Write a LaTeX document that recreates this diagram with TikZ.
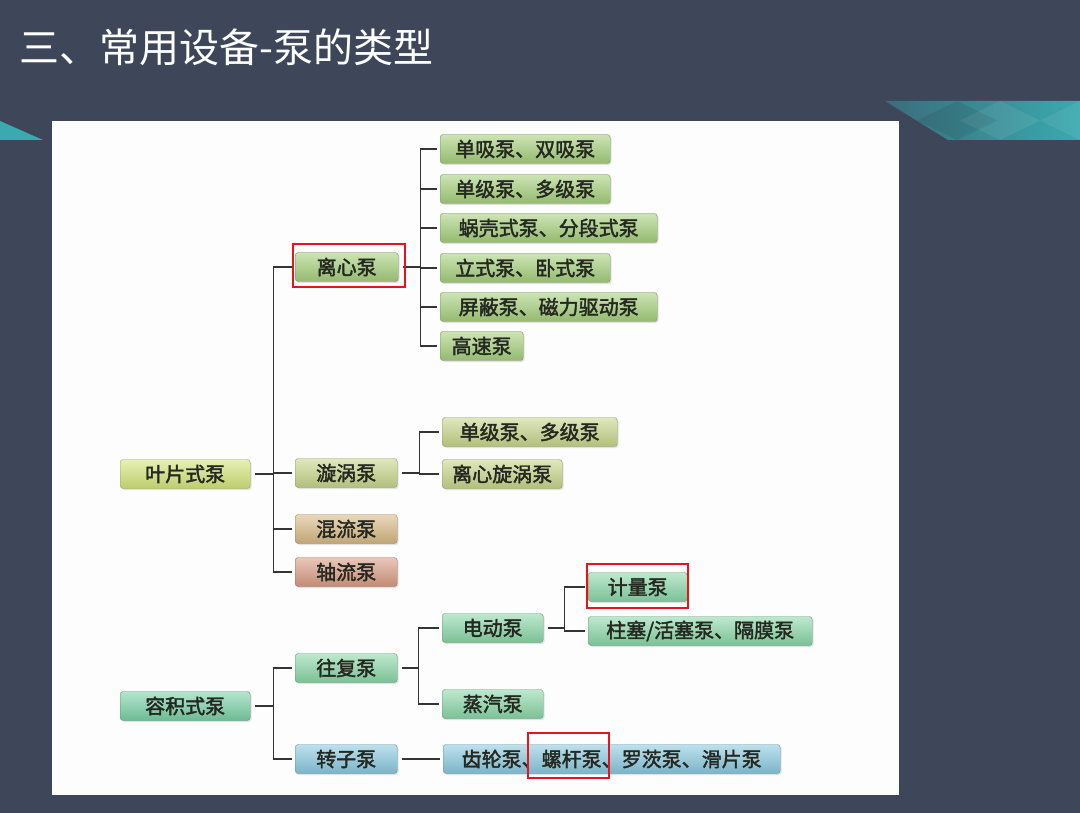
\documentclass[tikz,border=0pt]{standalone}
\usepackage{fontspec}
\usepackage{tikz}
\usetikzlibrary{shapes,positioning,calc,shadows,fit,backgrounds}
\newfontfamily\cjk{Noto Sans CJK SC}
\newfontfamily\cjkb[FakeBold=2]{Noto Sans CJK SC}
\definecolor{slidebg}{RGB}{62,71,89}
\definecolor{tealhi}{RGB}{58,170,176}
\definecolor{tealdk}{RGB}{60,108,122}
\definecolor{panelwhite}{RGB}{253,253,253}
\definecolor{linegray}{RGB}{52,52,52}
\definecolor{txtdark}{RGB}{36,40,32}
\definecolor{hired}{RGB}{232,20,27}
\definecolor{leafyel}{RGB}{210,228,120}
\definecolor{cfgreen}{RGB}{164,206,122}
\definecolor{vxolive}{RGB}{198,212,136}
\definecolor{mxtan}{RGB}{214,184,130}
\definecolor{axsalmon}{RGB}{216,154,130}
\definecolor{pdteal}{RGB}{120,208,164}
\definecolor{rcmint}{RGB}{136,214,166}
\definecolor{rtblue}{RGB}{136,200,222}

\begin{document}
\begin{tikzpicture}[x=1pt, y=-1pt,
    box/.style={rounded corners=3pt, minimum height=29pt, inner xsep=4pt, inner ysep=0pt,
        anchor=west, draw=#1!72!black, line width=0.4pt,
        top color=#1!55!white, bottom color=#1!90!black,
        font=\cjkb\fontsize{20}{20}\selectfont, text=txtdark,
        drop shadow={opacity=0.22, shadow xshift=1.5pt, shadow yshift=-1.5pt}},
    link/.style={draw=linegray, line width=1.7pt, shorten <=5pt, shorten >=3pt},
    hilite/.style={draw=hired, line width=2.6pt}]

    % slide background
    \fill[slidebg] (0,0) rectangle (1080,813);
    \fill[tealhi] (0,121) -- (43,140) -- (0,140) -- cycle;
    \begin{scope}
        \clip (885,101) -- (1080,101) -- (1080,140) -- (948,140) -- cycle;
        \shade[left color=tealdk, right color=tealhi] (885,101) rectangle (1080,140);
        \fill[white, opacity=0.07] (1000,101) -- (1040,120.5) -- (1000,140) -- (960,120.5) -- cycle;
        \fill[white, opacity=0.07] (1080,101) -- (1120,120.5) -- (1080,140) -- (1040,120.5) -- cycle;
        \fill[black, opacity=0.08] (957,101) -- (997,120.5) -- (957,140) -- (917,120.5) -- cycle;
    \end{scope}
    \node[anchor=west, text=white, font=\cjk\fontsize{40}{40}\selectfont] (title) at (16,47) {三、常用设备-泵的类型};
    \fill[panelwhite] (52,121) rectangle (899,795);

    % 叶片式泵
    \node[box=leafyel, minimum width=130pt] (yp) at (120,474) {叶片式泵};
    \node[box=cfgreen, minimum width=103pt] (lx) at (295,267) {离心泵};
    \node[box=vxolive, minimum width=102pt] (xw) at (295,473) {漩涡泵};
    \node[box=mxtan, minimum width=102pt] (hl) at (295,529) {混流泵};
    \node[box=axsalmon, minimum width=102pt] (zl) at (295,572) {轴流泵};

    \node[box=cfgreen, minimum width=170pt] (lx1) at (440,149) {单吸泵、双吸泵};
    \node[box=cfgreen, minimum width=170pt] (lx2) at (440,189) {单级泵、多级泵};
    \node[box=cfgreen, minimum width=217pt] (lx3) at (440,228) {蜗壳式泵、分段式泵};
    \node[box=cfgreen, minimum width=170pt] (lx4) at (440,268) {立式泵、卧式泵};
    \node[box=cfgreen, minimum width=217pt] (lx5) at (440,307) {屏蔽泵、磁力驱动泵};
    \node[box=cfgreen, minimum width=83pt] (lx6) at (440,346) {高速泵};

    \node[box=vxolive, minimum width=175pt] (xw1) at (442,432) {单级泵、多级泵};
    \node[box=vxolive, minimum width=120pt] (xw2) at (442,474) {离心旋涡泵};

    \foreach \c in {lx,xw,hl,zl}
        \draw[link] (yp.east) -- ++(23,0) |- (\c.west);
    \foreach \c in {lx1,lx2,lx3,lx4,lx5,lx6}
        \draw[link] (lx.east) -- ++(22,0) |- (\c.west);
    \foreach \c in {xw1,xw2}
        \draw[link] (xw.east) -- ++(22,0) |- (\c.west);

    % 容积式泵
    \node[box=pdteal, minimum width=130pt] (rj) at (120,706) {容积式泵};
    \node[box=rcmint, minimum width=102pt] (wf) at (295,668) {往复泵};
    \node[box=rtblue, minimum width=102pt] (zz) at (295,759) {转子泵};
    \node[box=rcmint, minimum width=101pt] (dd) at (442,628) {电动泵};
    \node[box=rcmint, minimum width=101pt] (zq) at (442,704) {蒸汽泵};
    \node[box=rcmint, minimum width=99pt] (jl) at (588,587) {计量泵};
    \node[box=rcmint, minimum width=224pt] (zs) at (588,631) {柱塞/活塞泵、隔膜泵};
    \node[box=rtblue, minimum width=337pt] (cl) at (443,759) {齿轮泵、螺杆泵、罗茨泵、滑片泵};

    \foreach \c in {wf,zz}
        \draw[link] (rj.east) -- ++(23,0) |- (\c.west);
    \foreach \c in {dd,zq}
        \draw[link] (wf.east) -- ++(21,0) |- (\c.west);
    \foreach \c in {jl,zs}
        \draw[link] (dd.east) -- ++(21,0) |- (\c.west);
    \draw[link] (zz.east) -- (cl.west);

    % highlights
    \draw[hilite] (293,244) rectangle (405,287);
    \draw[hilite] (587,564) rectangle (688,608);
    \draw[hilite] (528,733) rectangle (609,778);
\end{tikzpicture}
\end{document}
